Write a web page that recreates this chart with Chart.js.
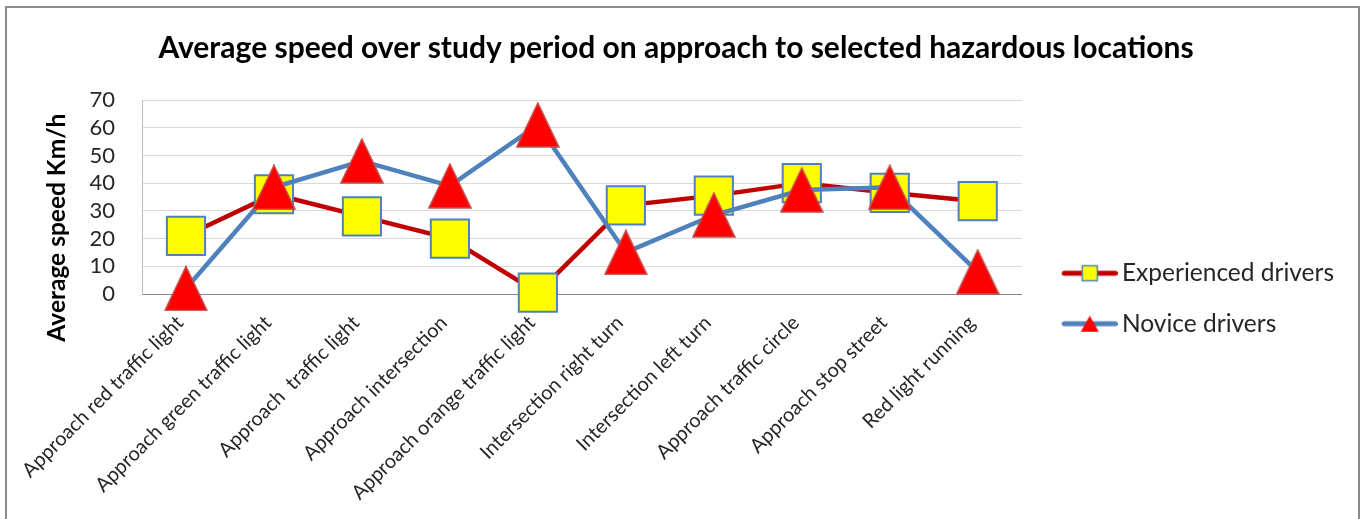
<!DOCTYPE html>
<html>
<head>
<meta charset="utf-8">
<title>Average speed over study period</title>
<script src="https://cdn.jsdelivr.net/npm/chart.js@4.4.1/dist/chart.umd.min.js"></script>
<style>
	body { margin: 0; background: #fff; }
	#wrap { position: relative; width: 1365px; height: 519px; }
	#frame { position: absolute; left: 5px; top: 6px; width: 1351px; height: 600px; border: 2px solid #8c8c8c; pointer-events: none; }
</style>
</head>
<body>
<div id="wrap">
	<canvas id="canvasSpeed" width="1365" height="519"></canvas>
	<div id="frame"></div>
</div>
<script>
// datos
var locations = [
	'Approach red traffic light',
	'Approach green traffic light',
	'Approach  traffic light',
	'Approach intersection',
	'Approach orange traffic light',
	'Intersection right turn',
	'Intersection left turn',
	'Approach traffic circle',
	'Approach stop street',
	'Red light running'
];
var experienced = [21, 36, 28, 20, 0.5, 32, 35.5, 40, 36.5, 33.5];
var novice = [2, 38.5, 48, 39, 61, 15, 28.5, 37.5, 38.5, 8];
var yTicks = [0, 10, 20, 30, 40, 50, 60, 70];

// marcador triangulo (tipo excel)
function makeTriangle(w, h){
	var c = document.createElement('canvas');
	c.width = w + 2;
	c.height = h + 2;
	var g = c.getContext('2d');
	g.beginPath();
	g.moveTo(c.width / 2, 1);
	g.lineTo(c.width - 1, c.height - 1);
	g.lineTo(1, c.height - 1);
	g.closePath();
	g.fillStyle = '#FF0000';
	g.fill();
	g.lineWidth = 1.5;
	g.strokeStyle = '#C0504D';
	g.stroke();
	return c;
}

// icono de leyenda: linea + marcador
function makeLegendIcon(lineColor, kind){
	var c = document.createElement('canvas');
	c.width = 78;
	c.height = 24;
	var g = c.getContext('2d');
	g.strokeStyle = lineColor;
	g.lineWidth = 5;
	g.lineCap = 'round';
	g.beginPath();
	g.moveTo(24.5, 12);
	g.lineTo(75.5, 12);
	g.stroke();
	if(kind == 'square'){
		g.fillStyle = '#FFFF00';
		g.fillRect(42.5, 4.5, 15, 15);
		g.strokeStyle = '#4F81BD';
		g.lineWidth = 1.5;
		g.strokeRect(42.5, 4.5, 15, 15);
	} else {
		g.beginPath();
		g.moveTo(50, 4);
		g.lineTo(59, 20);
		g.lineTo(41, 20);
		g.closePath();
		g.fillStyle = '#FF0000';
		g.fill();
	}
	return c;
}

var triangle = makeTriangle(42, 44);
var legendIcons = [makeLegendIcon('#C00000', 'square'), makeLegendIcon('#4F81BD', 'triangle')];

// baja la leyenda hasta donde esta en el original
var moveLegend = {
	id: 'moveLegend',
	afterLayout: function(chart){
		chart.legend.top += 39;
		chart.legend.bottom += 39;
	}
};

Chart.defaults.font.family = 'Lato';
Chart.defaults.color = '#262626';

function drawSpeedChart(){
	var ctx = document.getElementById('canvasSpeed').getContext('2d');
	window.mySpeed = new Chart(ctx, {
		type: 'line',
		data: {
			labels: locations,
			datasets: [{
				label: 'Experienced drivers',
				data: experienced,
				borderColor: '#C00000',
				borderWidth: 4.5,
				pointStyle: 'rect',
				pointRadius: 27,
				pointBackgroundColor: '#FFFF00',
				pointBorderColor: '#4F81BD',
				pointBorderWidth: 2,
				clip: false,
				order: 2
			}, {
				label: 'Novice drivers',
				data: novice,
				borderColor: '#4F81BD',
				borderWidth: 4.5,
				pointStyle: triangle,
				pointRadius: 22,
				clip: false,
				order: 1
			}]
		},
		options: {
			responsive: false,
			animation: false,
			layout: { padding: { left: 8, right: 21, top: 0, bottom: 0 } },
			plugins: {
				title: {
					display: true,
					text: 'Average speed over study period on approach to selected hazardous locations',
					font: { size: 30, weight: 'bold' },
					color: '#000',
					padding: { top: 30, bottom: 34 }
				},
				legend: {
					position: 'right',
					labels: {
						usePointStyle: true,
						pointStyleWidth: 62,
						padding: 26,
						font: { size: 24.5 },
						generateLabels: function(chart){
							var items = Chart.defaults.plugins.legend.labels.generateLabels(chart);
							items.forEach(function(item){
								item.pointStyle = legendIcons[item.datasetIndex];
							});
							return items;
						},
						sort: function(a, b){ return a.datasetIndex - b.datasetIndex; }
					}
				},
				tooltip: { enabled: false }
			},
			scales: {
				x: {
					offset: true,
					grid: { display: false, drawTicks: false },
					border: { color: '#868686', width: 1 },
					ticks: {
						autoSkip: false,
						minRotation: 45,
						maxRotation: 45,
						padding: 17,
						labelOffset: -6,
						font: { size: 20 }
					},
					afterFit: function(scale){ scale.height = 225; }
				},
				y: {
					min: 0,
					max: 70,
					afterBuildTicks: function(scale){
						scale.ticks = yTicks.map(function(v){ return { value: v }; });
					},
					grid: { color: '#D9D9D9', drawTicks: false },
					border: { color: '#BFBFBF', width: 1 },
					ticks: { autoSkip: false, padding: 27, font: { size: 22 } },
					title: {
						display: true,
						text: 'Average speed Km/h\u2002\u2002\u2002\u2002\u2002',
						font: { size: 24.5, weight: 'bold' },
						color: '#000',
						padding: { top: 34 }
					},
					afterFit: function(scale){ scale.width = 134; }
				}
			}
		},
		plugins: [moveLegend]
	});
}

window.onload = function(){
	drawSpeedChart();
};
</script>
</body>
</html>
